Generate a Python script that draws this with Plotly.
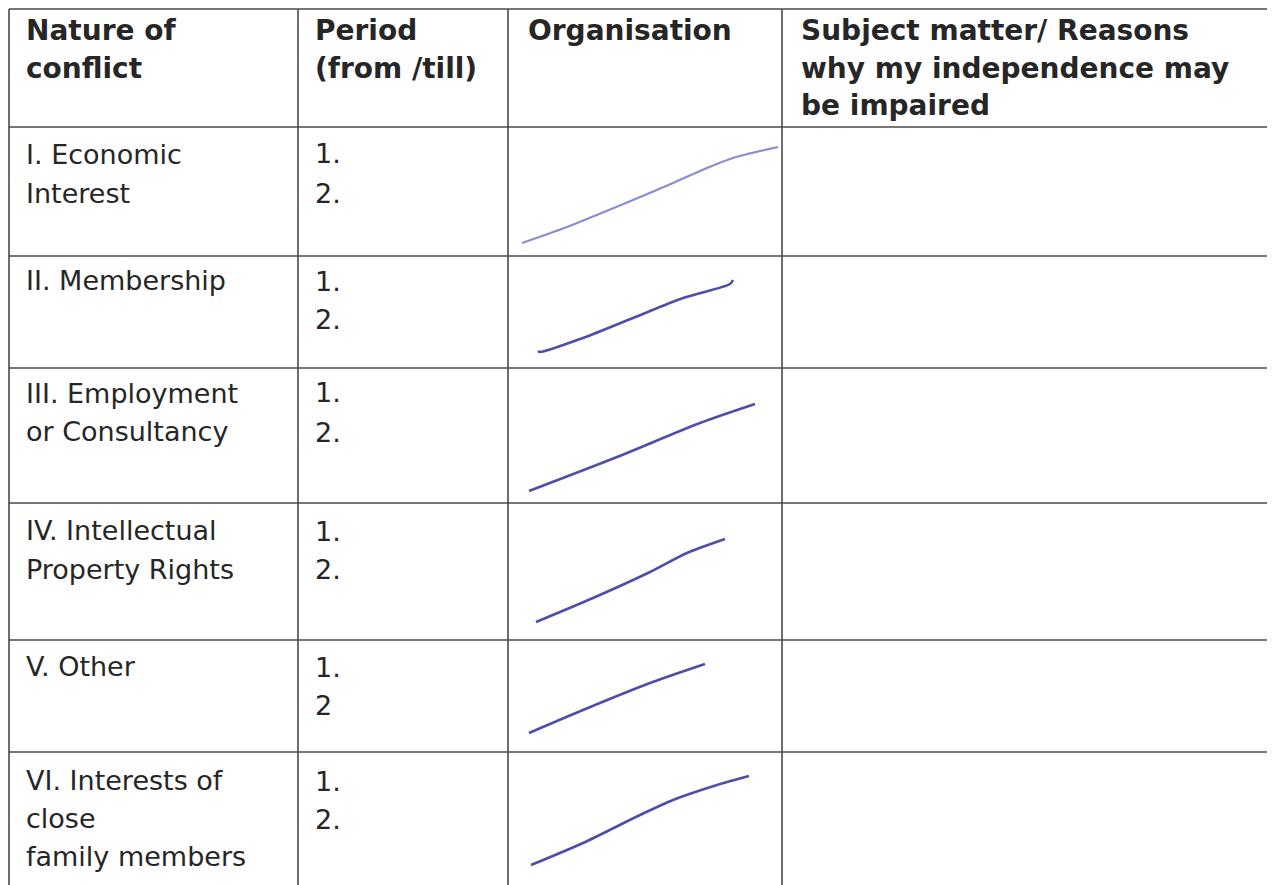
import plotly.graph_objects as go

# ---------------- data ----------------
headers = [
    ["Nature of", "conflict"],
    ["Period", "(from /till)"],
    ["Organisation"],
    ["Subject matter/ Reasons", "why my independence may", "be impaired"],
]
nature = [
    ["I. Economic", "Interest"],
    ["II. Membership"],
    ["III. Employment", "or Consultancy"],
    ["IV. Intellectual", "Property Rights"],
    ["V. Other"],
    ["VI. Interests of", "close", "family members"],
]
period = [
    ["1.", "2."],
    ["1.", "2."],
    ["1.", "2."],
    ["1.", "2."],
    ["1.", "2"],
    ["1.", "2."],
]
# handwritten strokes in the "Organisation" column (page pixel coordinates)
stroke_I_x = [522, 567, 633, 673, 707, 733, 778]
stroke_I_y = [243, 227, 200, 183, 168, 158, 147]
stroke_II_x = [538, 540, 583, 633, 683, 730, 733]
stroke_II_y = [351, 352, 338, 318, 298, 284, 280]
stroke_III_x = [529, 617, 700, 755]
stroke_III_y = [491, 457, 423, 404]
stroke_IV_x = [536, 593, 650, 687, 725]
stroke_IV_y = [622, 598, 572, 553, 539]
stroke_V_x = [529, 583, 650, 705]
stroke_V_y = [733, 710, 683, 664]
stroke_VI_x = [531, 583, 640, 673, 717, 749]
stroke_VI_y = [865, 843, 815, 800, 785, 776]

# ---------------- layout geometry ----------------
# the page body has an 8px margin, so the figure starts at page pixel 8
OFF = 8
W, H = 1275, 885
col_x = [9, 298, 508, 782]          # vertical rules
right_x = 1272
row_y = [9, 127, 256, 368, 503, 640, 752]   # horizontal rules
text_x = [25, 314, 527, 800]
header_base = [40, 78, 115]
row_text_base = [
    [164, 203],
    [290],
    [403, 441],
    [540, 579],
    [676],
    [790, 828, 866],
]
num_base = [
    [163, 203],
    [291, 329],
    [402, 442],
    [541, 579],
    [677, 715],
    [791, 829],
]

HFS = 28   # header font size
BFS = 27   # body font size
ink = "#262626"
rule = "#4a4a4a"

fig = go.Figure()

strokes = [
    (stroke_I_x, stroke_I_y, "rgba(120,120,200,0.85)", 2.2),
    (stroke_II_x, stroke_II_y, "rgb(78,78,170)", 2.6),
    (stroke_III_x, stroke_III_y, "rgb(78,78,170)", 2.6),
    (stroke_IV_x, stroke_IV_y, "rgb(78,78,170)", 2.6),
    (stroke_V_x, stroke_V_y, "rgb(78,78,170)", 2.6),
    (stroke_VI_x, stroke_VI_y, "rgb(78,78,170)", 2.6),
]
for xs, ys, c, w in strokes:
    fig.add_trace(go.Scatter(x=xs, y=ys, mode="lines",
                             line=dict(color=c, width=w, shape="spline", smoothing=0.8),
                             hoverinfo="skip", showlegend=False))

shapes = []
for y in row_y:
    shapes.append(dict(type="line", x0=col_x[0], x1=W, y0=y, y1=y,
                       line=dict(color=rule, width=1.6), layer="below"))
for x in col_x:
    shapes.append(dict(type="line", x0=x, x1=x, y0=row_y[0], y1=H,
                       line=dict(color=rule, width=1.6), layer="below"))
shapes.append(dict(type="line", x0=right_x, x1=right_x, y0=row_y[0], y1=H,
                   line=dict(color="#d0d0d0", width=1), layer="below"))

annotations = []
def add_text(x, base, txt, size, bold=False):
    annotations.append(dict(
        x=x, y=base - 0.35 * size, xref="x", yref="y", text=txt,
        showarrow=False, xanchor="left", yanchor="middle",
        font=dict(family="DejaVu Sans", size=size, color=ink,
                  weight="bold" if bold else "normal"),
        borderpad=0))

for ci, lines in enumerate(headers):
    for li, t in enumerate(lines):
        add_text(text_x[ci], header_base[li], t, HFS, bold=True)

for ri, lines in enumerate(nature):
    for li, t in enumerate(lines):
        add_text(text_x[0], row_text_base[ri][li], t, BFS)
    for li, t in enumerate(period[ri]):
        add_text(text_x[1], num_base[ri][li], t, BFS)

fig.update_layout(
    width=W - OFF, height=H - OFF, margin=dict(l=0, r=0, t=0, b=0),
    paper_bgcolor="white", plot_bgcolor="white",
    xaxis=dict(range=[OFF, W], visible=False, fixedrange=True),
    yaxis=dict(range=[H, OFF], visible=False, fixedrange=True),
    shapes=shapes, annotations=annotations, showlegend=False,
)
fig.write_html("out.html")
